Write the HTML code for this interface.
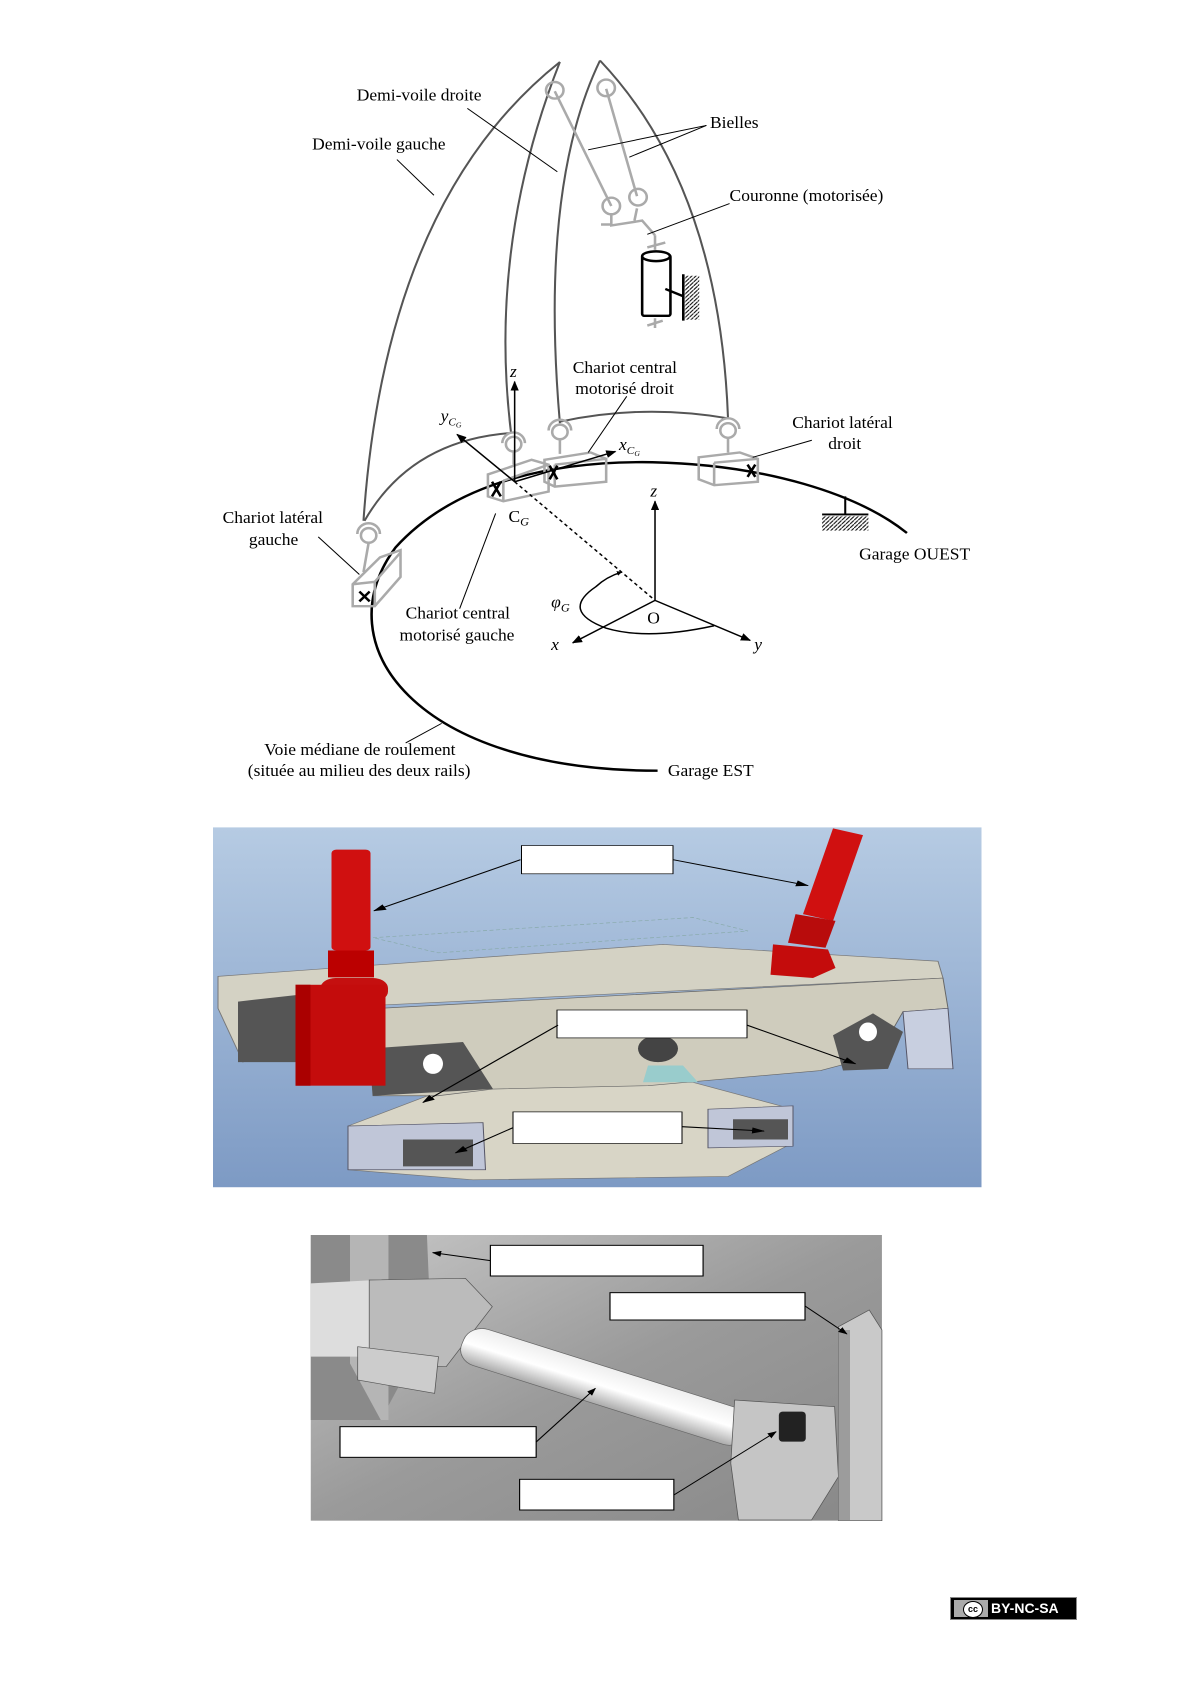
<!DOCTYPE html>
<html><head><meta charset="utf-8"><style>
html,body{margin:0;padding:0;background:#fff;}
body{width:1191px;height:1684px;position:relative;overflow:hidden;font-family:"Liberation Serif",serif;}
svg{position:absolute;}
.badge{position:absolute;left:950px;top:1597px;width:127px;height:23px;background:#000;border:1px solid #888;box-sizing:border-box;}
.badge .cc{position:absolute;left:3px;top:2px;width:34px;height:17px;background:#aaa;}
.badge .c{position:absolute;left:9px;top:1px;width:18px;height:15px;border-radius:50%;background:#fff;border:1px solid #000;font:bold 9px "Liberation Sans",sans-serif;text-align:center;line-height:15px;}
.badge .t{position:absolute;left:40px;top:2px;color:#fff;font:bold 14px "Liberation Sans",sans-serif;}
</style></head><body>

<svg style="left:200px;top:40px" width="800" height="760" viewBox="0 0 1556 1557" preserveAspectRatio="none">
<defs>
<marker id="a" markerWidth="10" markerHeight="10" refX="9" refY="5" orient="auto" markerUnits="userSpaceOnUse"><path d="M0,0 L10,5 L0,10 z" fill="#000"/></marker>
<marker id="b" markerWidth="20" markerHeight="16" refX="18" refY="8" orient="auto" markerUnits="userSpaceOnUse"><path d="M0,0 L20,8 L0,16 z" fill="#000"/></marker>
<pattern id="h" width="8" height="8" patternUnits="userSpaceOnUse"><path d="M0,8 L8,0" stroke="#000" stroke-width="2"/></pattern>
</defs>
<g fill="none" stroke="#555" stroke-width="4">
<path d="M318,985 Q360,330 700,45"/>
<path d="M700,45 Q560,420 605,805"/>
<path d="M700,785 Q660,300 778,42"/>
<path d="M778,42 Q1010,300 1027,775"/>
<path d="M320,985 Q410,820 605,805"/>
<path d="M700,782 Q860,745 1027,775"/>
</g>
<path d="M890,1497 C420,1497 240,1240 380,1040 C500,900 700,862 880,865 C1100,870 1280,930 1375,1010" fill="none" stroke="#000" stroke-width="5"/>
<path d="M1255,935 L1255,970 M1210,972 L1300,972" stroke="#000" stroke-width="4"/>
<rect x="1210" y="975" width="90" height="30" fill="url(#h)"/>
<g stroke="#aaa" stroke-width="5" fill="none">
<path d="M690,105 L800,340 M790,100 L850,320"/>
<path d="M800,355 L800,380 L860,370 L885,400 M850,345 L845,370 M780,378 L800,378"/>
<path d="M885,400 L885,430 M870,425 L905,415 M885,570 L885,590 M870,585 L900,575"/>
<circle cx="690" cy="103" r="17"/><circle cx="790" cy="98" r="17"/>
<circle cx="800" cy="340" r="17"/><circle cx="852" cy="322" r="17"/>
</g>
<g stroke="#000" stroke-width="5" fill="#fff">
<rect x="860" y="440" width="55" height="125" rx="4"/>
<ellipse cx="887" cy="443" rx="27" ry="10"/>
<path d="M905,510 L940,525 M940,480 L940,575" fill="none"/>
</g>
<rect x="943" y="483" width="28" height="90" fill="url(#h)"/>
<g stroke="#aaa" stroke-width="5" fill="none">
<circle cx="610" cy="828" r="15"/><circle cx="700" cy="803" r="15"/><circle cx="1027" cy="800" r="15"/><circle cx="328" cy="1015" r="15"/>
<path d="M588,826 A22,22 0 0 1 632,826 M678,800 A22,22 0 0 1 722,800 M1005,797 A22,22 0 0 1 1049,797 M306,1012 A22,22 0 0 1 350,1012"/>
<path d="M610,843 L610,870 M700,818 L700,848 M1027,815 L1027,845 M328,1030 L318,1090"/>
<path d="M560,890 L645,860 L678,870 L678,925 L590,945 L560,935 Z M590,903 L590,945 M590,903 L678,870"/>
<path d="M670,860 L760,845 L790,858 L790,905 L690,915 L670,905 Z M690,870 L690,915 M690,870 L790,858"/>
<path d="M970,855 L1050,845 L1085,858 L1085,905 L1000,912 L970,900 Z M1000,866 L1000,912 M1000,866 L1085,858"/>
<path d="M297,1115 L350,1060 L390,1045 L390,1100 L340,1160 L297,1160 Z M297,1115 L340,1110 L390,1050 M340,1110 L340,1160"/>
</g>
<g stroke="#000" stroke-width="5">
<path d="M568,905 L585,935 M585,905 L568,935 M680,872 L695,900 M695,872 L680,900 M1065,870 L1080,895 M1080,870 L1065,895 M310,1130 L330,1150 M330,1130 L310,1150"/>
</g>
<g stroke="#000" stroke-width="3" fill="none">
<path d="M612,905 L612,700" marker-end="url(#b)"/>
<path d="M612,905 L500,808" marker-end="url(#b)"/>
<path d="M612,905 L808,843" marker-end="url(#b)"/>
<path d="M612,905 L885,1148" stroke-dasharray="7,6"/>
<path d="M885,1148 L885,945" marker-end="url(#b)"/>
<path d="M885,1148 L725,1235" marker-end="url(#b)"/>
<path d="M885,1148 L1070,1230" marker-end="url(#b)"/>
<path d="M1000,1200 Q870,1230 790,1205 Q700,1170 770,1120 Q790,1100 820,1090" marker-end="url(#a)"/>
</g>
<g stroke="#000" stroke-width="2" fill="none">
<path d="M520,140 L695,270"/>
<path d="M383,245 L455,318"/>
<path d="M985,175 L755,225 M985,175 L835,240"/>
<path d="M1030,335 L870,398"/>
<path d="M830,730 L755,845"/>
<path d="M1190,820 L1075,855"/>
<path d="M230,1018 L310,1095"/>
<path d="M575,970 L505,1165"/>
<path d="M470,1400 L400,1440"/>
</g>
<g font-family="Liberation Serif, serif" font-size="34" fill="#000">
<text x="305" y="124">Demi-voile droite</text>
<text x="218" y="224">Demi-voile gauche</text>
<text x="992" y="180">Bielles</text>
<text x="1030" y="330">Couronne (motorisée)</text>
<text x="725" y="682">Chariot central</text>
<text x="730" y="725">motorisé droit</text>
<text x="1152" y="795">Chariot latéral</text>
<text x="1222" y="838">droit</text>
<text x="44" y="990">Chariot latéral</text>
<text x="95" y="1035">gauche</text>
<text x="1282" y="1064">Garage OUEST</text>
<text x="400" y="1185">Chariot central</text>
<text x="388" y="1230">motorisé gauche</text>
<text x="125" y="1465">Voie médiane de roulement</text>
<text x="93" y="1508">(située au milieu des deux rails)</text>
<text x="910" y="1508">Garage EST</text>
<text x="870" y="1195">O</text>
<text x="600" y="987">C<tspan font-size="24" font-style="italic" dy="8">G</tspan></text>
<text x="683" y="1163" font-style="italic">φ<tspan font-size="24" dy="8">G</tspan></text>
<g font-style="italic">
<text x="603" y="690">z</text><text x="876" y="935">z</text>
<text x="683" y="1250">x</text><text x="1078" y="1250">y</text>
<text x="468" y="782">y<tspan font-size="22" dy="8">C</tspan><tspan font-size="15" dy="4">G</tspan></text>
<text x="815" y="840">x<tspan font-size="22" dy="8">C</tspan><tspan font-size="15" dy="4">G</tspan></text>
</g>
</g>
</svg>

<svg style="left:213px;top:820px" width="780" height="380" viewBox="0 0 1560 1130" preserveAspectRatio="none">
<defs>
<linearGradient id="bg1" x1="0" y1="0" x2="0" y2="1"><stop offset="0" stop-color="#b6cbe3"/><stop offset="1" stop-color="#7d9ac4"/></linearGradient>
<marker id="c" markerWidth="26" markerHeight="18" refX="24" refY="9" orient="auto" markerUnits="userSpaceOnUse"><path d="M0,0 L26,9 L0,18 z" fill="#000"/></marker>
</defs>
<rect x="0" y="22" width="1537" height="1070" fill="url(#bg1)"/>
<path d="M320,350 L960,290 L1070,330 L450,395 Z" fill="none" stroke="#8aa" stroke-width="2" stroke-dasharray="8,5"/>
<path d="M10,465 L900,370 L1450,420 L1460,470 L200,560 L60,720 L10,560 Z" fill="#d4d2c4" stroke="#777" stroke-width="2"/>
<path d="M50,540 L170,520 L170,720 L50,720 Z" fill="#555"/>
<path d="M500,780 L960,780 L1160,860 L1160,960 L1030,1060 L520,1070 L270,1040 L270,910 Z" fill="#d8d5c6" stroke="#777" stroke-width="2"/>
<path d="M270,910 L540,900 L545,1040 L270,1040 Z" fill="#c0c6d8" stroke="#556" stroke-width="2"/>
<path d="M380,950 L520,950 L520,1030 L380,1030 Z" fill="#555"/>
<path d="M990,860 L1160,850 L1160,970 L990,975 Z" fill="#c0c6d8" stroke="#556" stroke-width="2"/>
<path d="M1040,890 L1150,890 L1150,950 L1040,950 Z" fill="#555"/>
<path d="M270,565 L960,510 L1460,470 L1470,560 L1380,570 L1330,700 L1215,745 L870,790 L560,800 L450,820 L320,820 L310,600 Z" fill="#cfccbd" stroke="#666" stroke-width="2"/>
<path d="M310,680 L500,660 L560,800 L320,820 Z" fill="#555"/>
<ellipse cx="440" cy="725" rx="20" ry="30" fill="#fff"/>
<path d="M1240,640 L1320,575 L1380,630 L1350,740 L1260,745 Z" fill="#555"/>
<ellipse cx="1310" cy="630" rx="18" ry="28" fill="#fff"/>
<path d="M1380,570 L1470,560 L1480,740 L1390,740 Z" fill="#c8cfe0" stroke="#556" stroke-width="2"/>
<circle cx="890" cy="680" r="40" fill="#444"/>
<path d="M870,730 L940,730 L970,780 L860,780 Z" fill="#9cc"/>
<rect x="237" y="88" width="78" height="300" rx="10" fill="#d01010"/>
<rect x="230" y="388" width="92" height="80" fill="#b00"/>
<rect x="215" y="470" width="135" height="70" rx="30" fill="#c50f0f"/>
<rect x="165" y="490" width="180" height="300" fill="#c40c0c"/>
<rect x="165" y="490" width="30" height="300" fill="#a00"/>
<path d="M1240,25 L1300,45 L1240,300 L1180,280 Z" fill="#d01010"/>
<path d="M1165,280 L1245,300 L1225,380 L1150,365 Z" fill="#b80c0c"/>
<path d="M1120,370 L1230,385 L1245,440 L1200,470 L1115,460 Z" fill="#c40c0c"/>
<g fill="#fff" stroke="#000" stroke-width="2">
<rect x="617" y="76" width="303" height="84"/>
<rect x="688" y="565" width="380" height="83"/>
<rect x="600" y="868" width="338" height="94"/>
</g>
<g stroke="#000" stroke-width="3" fill="none">
<path d="M615,118 L322,270" marker-end="url(#c)"/>
<path d="M920,118 L1190,195" marker-end="url(#c)"/>
<path d="M690,610 L420,840" marker-end="url(#c)"/>
<path d="M1068,610 L1285,725" marker-end="url(#c)"/>
<path d="M600,915 L485,990" marker-end="url(#c)"/>
<path d="M938,912 L1102,925" marker-end="url(#c)"/>
</g>
</svg>

<svg style="left:300px;top:1230px" width="600" height="310" viewBox="0 0 1560 930" preserveAspectRatio="none">
<defs>
<linearGradient id="bg2" x1="0" y1="0" x2="1" y2="1"><stop offset="0" stop-color="#c8c8c8"/><stop offset="0.5" stop-color="#9a9a9a"/><stop offset="1" stop-color="#888"/></linearGradient>
<linearGradient id="tb" x1="0" y1="0" x2="0" y2="1"><stop offset="0" stop-color="#eee"/><stop offset="0.5" stop-color="#fff"/><stop offset="1" stop-color="#aaa"/></linearGradient>
<marker id="d" markerWidth="24" markerHeight="18" refX="22" refY="9" orient="auto" markerUnits="userSpaceOnUse"><path d="M0,0 L24,9 L0,18 z" fill="#000"/></marker>
</defs>
<rect x="28" y="15" width="1485" height="857" fill="url(#bg2)"/>
<path d="M28,15 L330,15 L340,290 L210,570 L28,570 Z" fill="#8a8a8a"/>
<path d="M130,15 L230,15 L230,570 L210,570 L130,400 Z" fill="#b5b5b5"/>
<path d="M28,160 L200,150 L200,380 L28,380 Z" fill="#ddd"/>
<path d="M180,150 L430,145 L500,230 L380,410 L180,400 Z" fill="#bbb" stroke="#555" stroke-width="2"/>
<path d="M150,350 L360,380 L350,490 L150,450 Z" fill="#ccc" stroke="#555" stroke-width="2"/>
<g transform="rotate(20 800 470)">
<rect x="400" y="415" width="790" height="115" rx="50" fill="url(#tb)" stroke="#666" stroke-width="2"/>
</g>
<path d="M1130,510 L1390,530 L1400,740 L1330,870 L1140,870 L1120,700 Z" fill="#c5c5c5" stroke="#555" stroke-width="2"/>
<rect x="1245" y="545" width="70" height="90" rx="10" fill="#222"/>
<path d="M1400,290 L1480,240 L1513,300 L1513,872 L1400,872 Z" fill="#c9c9c9" stroke="#555" stroke-width="2"/>
<path d="M1400,300 L1430,300 L1430,872 L1400,872 Z" fill="#9c9c9c"/>
<g fill="#fff" stroke="#000" stroke-width="3">
<rect x="495" y="46" width="553" height="92"/>
<rect x="806" y="188" width="507" height="82"/>
<rect x="104" y="590" width="510" height="92"/>
<rect x="571" y="748" width="401" height="92"/>
</g>
<g stroke="#000" stroke-width="3" fill="none">
<path d="M495,92 L345,68" marker-end="url(#d)"/>
<path d="M1313,228 L1422,312" marker-end="url(#d)"/>
<path d="M614,636 L768,475" marker-end="url(#d)"/>
<path d="M972,795 L1238,605" marker-end="url(#d)"/>
</g>
</svg>

<div class="badge"><div class="cc"><div class="c">cc</div></div><div class="t">BY-NC-SA</div></div>
</body></html>
